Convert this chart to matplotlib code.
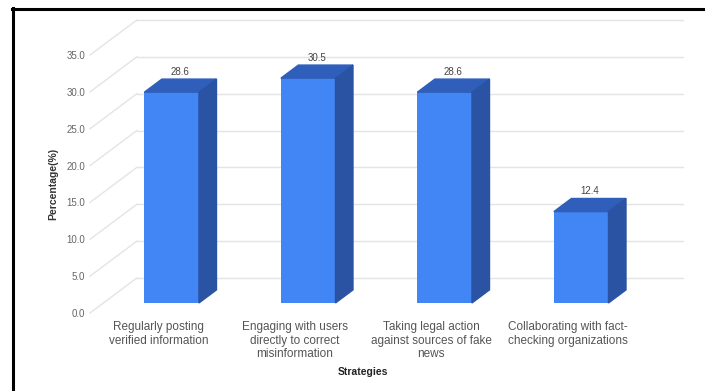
import matplotlib
matplotlib.use('Agg')
import matplotlib.pyplot as plt
from matplotlib.patches import Polygon
from matplotlib.lines import Line2D

plt.rcParams['font.family'] = ['Liberation Sans', 'DejaVu Sans']

categories = ['Regularly posting\nverified information',
              'Engaging with users\ndirectly to correct\nmisinformation',
              'Taking legal action\nagainst sources of fake\nnews',
              'Collaborating with fact-\nchecking organizations']
values = [28.6, 30.5, 28.6, 12.4]
yticks = [0, 5, 10, 15, 20, 25, 30, 35]

front = '#4285f4'
top = '#2f5fba'
side = '#2a54a3'
grid = '#e4e4e4'

# fake 3d: depth 0 is the front edge of the floor, depth 1 the back wall
DX, DY = 0.343, 4.75
D0, D1 = 0.286, 0.66
W = 0.4

fig = plt.figure(figsize=(7.05, 3.91), dpi=100)
ax = fig.add_axes([0.1277, 0.1995, 0.7745, 0.6598])
ax.set_xlim(-0.5, 3.5)
ax.set_ylim(0, 35)
for s in ax.spines.values():
    s.set_visible(False)

# walls: diagonal on the left side, horizontal on the back
for t in yticks:
    ax.plot([-0.5, -0.5 + DX], [t, t + DY], color=grid, lw=1, clip_on=False, zorder=0)
    ax.plot([-0.5 + DX, 3.5 + DX], [t + DY, t + DY], color=grid, lw=1, clip_on=False, zorder=0)

z0 = D0 * DY
ddx = (D1 - D0) * DX
ddy = (D1 - D0) * DY
for i, v in enumerate(values):
    xc = i + D0 * DX
    xl, xr = xc - W / 2, xc + W / 2
    ax.bar(xc, v, bottom=z0, width=W, color=front, zorder=3)
    ax.add_patch(Polygon([(xl, v + z0), (xr, v + z0), (xr + ddx, v + z0 + ddy),
                          (xl + ddx, v + z0 + ddy)], closed=True, color=top,
                         zorder=3, clip_on=False))
    ax.add_patch(Polygon([(xr, z0), (xr, v + z0), (xr + ddx, v + z0 + ddy),
                          (xr + ddx, z0 + ddy)], closed=True, color=side,
                         zorder=3, clip_on=False))
    ax.annotate(f'{v:.1f}', (xc + ddx / 2, v + z0 + ddy), xytext=(0, 1.5),
                textcoords='offset points', ha='center', va='bottom',
                fontsize=7, color='#444444')

ax.set_yticks(yticks)
ax.set_yticklabels([f'{t:.1f}' for t in yticks])
ax.set_xticks(range(len(categories)))
ax.set_xticklabels(categories, linespacing=1.15)
ax.tick_params(axis='y', length=0, pad=3.6, labelsize=7, labelcolor='#666666')
ax.tick_params(axis='x', length=0, pad=6, labelsize=8.5, labelcolor='#555555')
ax.set_xlabel('Strategies', fontsize=7.5, fontweight='bold', color='#222222', labelpad=5)
ax.set_ylabel('Percentage(%)', fontsize=7.5, fontweight='bold', color='#333333', labelpad=6)

# black frame along the top and left edge
fig.add_artist(Line2D([12 / 705, 1], [1 - 9 / 391, 1 - 9 / 391], color='black', lw=2.2))
fig.add_artist(Line2D([13 / 705, 13 / 705], [0, 1 - 8 / 391], color='black', lw=2.2))

fig.savefig('out.png', dpi=100)
